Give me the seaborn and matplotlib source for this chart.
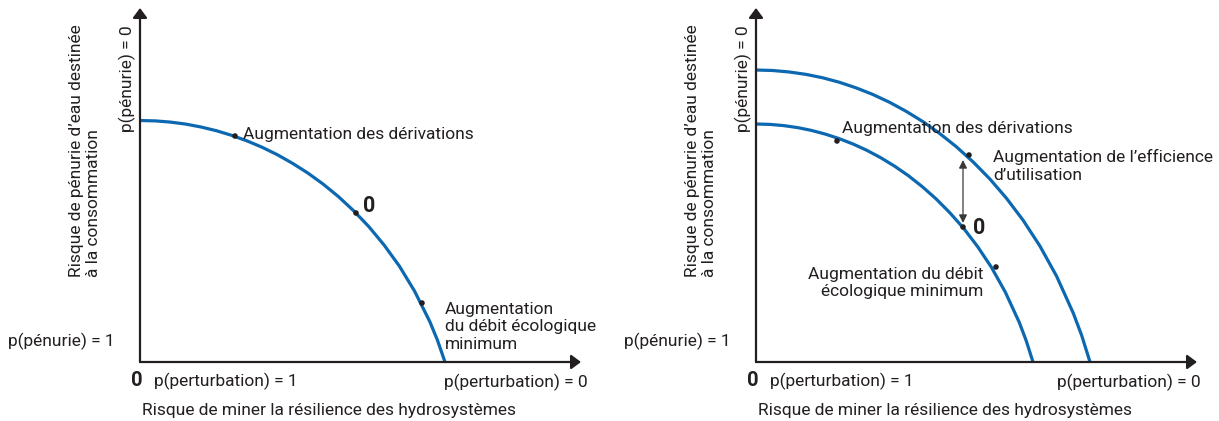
import matplotlib
matplotlib.use("Agg")
import matplotlib.pyplot as plt
import seaborn as sns
from matplotlib import font_manager

# values, in pixel offsets from each panel's origin
left_curve_x = [0, 15.3, 30.5, 45.8, 61, 76.3, 91.5, 106.8, 122, 137.3, 152.5,
                167.8, 183, 198.3, 213.5, 228.8, 244, 259.3, 274.5, 289.8, 297.4, 305]
left_curve_y = [241.5, 241.1, 239.9, 237.9, 235.0, 231.3, 226.7, 221.2, 214.8, 207.3, 198.7,
                189.0, 178.0, 165.5, 151.4, 135.4, 117.1, 96.0, 71.0, 40.4, 21.9, 0]
left_dots_x = [95, 216, 282]
left_dots_y = [226, 149, 59]

inner_curve_x = [0, 13.9, 27.7, 41.6, 55.4, 69.3, 83.1, 97, 110.8, 124.7, 138.5,
                 152.4, 166.2, 180.1, 193.9, 207.8, 221.6, 235.5, 249.3, 263.2, 270.1, 277]
inner_curve_y = [238, 237.6, 236.4, 234.4, 231.6, 227.9, 223.4, 218.0, 211.7, 204.3, 195.9,
                 186.3, 175.4, 163.1, 149.2, 133.5, 115.4, 94.6, 69.9, 39.8, 21.6, 0]
outer_curve_x = [0, 16.7, 33.4, 50.1, 66.8, 83.5, 100.2, 116.9, 133.6, 150.3, 167,
                 183.7, 200.4, 217.1, 233.8, 250.5, 267.2, 283.9, 300.6, 317.3, 325.7, 334]
outer_curve_y = [292, 291.5, 290.0, 287.6, 284.2, 279.7, 274.1, 267.5, 259.7, 250.6, 240.3,
                 228.5, 215.2, 200.1, 183.1, 163.7, 141.6, 116.0, 85.8, 48.8, 26.5, 0]
right_dots_x = [81, 213, 207, 240]
right_dots_y = [221, 207, 135, 95]

y_title = "Risque de pénurie d’eau destinée\nà la consommation"
x_title = "Risque de miner la résilience des hydrosystèmes"

BLUE = "#0b68b1"
INK = "#231f20"

sns.set_theme(style="white")
names = {f.name for f in font_manager.fontManager.ttflist}
FONT = next(n for n in ["Liberation Sans Narrow", "Roboto", "DejaVu Sans"] if n in names)
SIZE = 12.5
plt.rcParams["font.family"] = [FONT, "DejaVu Sans"]

W, H = 1219, 421
fig = plt.figure(figsize=(W / 100, H / 100), dpi=100)
fig.patch.set_facecolor("white")


def make_axes(x0, xlen):
    ax = fig.add_axes([x0 / W, 59 / H, xlen / W, 354 / H])
    ax.set_xlim(0, xlen)
    ax.set_ylim(0, 354)
    ax.set_axis_off()
    head = "-|>,head_length=0.58,head_width=0.43"
    for end in [(xlen, 0), (0, 354)]:
        ax.annotate("", xy=end, xytext=(0, 0),
                    arrowprops=dict(arrowstyle=head, color=INK, lw=1.6,
                                    mutation_scale=10, shrinkA=0, shrinkB=0),
                    annotation_clip=False)
    return ax


def frame_text(ax):
    kw = dict(color=INK, fontsize=SIZE)
    ax.text(-55, 85, y_title, rotation=90, ha="center", va="bottom",
            multialignment="left", **kw)
    ax.text(-13, 230, "p(pénurie) = 0", rotation=90, ha="center", va="bottom", **kw)
    ax.text(-25, 21, "p(pénurie) = 1", ha="right", va="center", **kw)
    ax.text(-3, -19, "0", ha="center", va="center", fontweight="bold",
            color=INK, fontsize=SIZE + 2)
    ax.text(14, -19, "p(perturbation) = 1", ha="left", va="center", **kw)
    ax.text(2, -48, x_title, ha="left", va="center", **kw)


def curve(ax, xs, ys):
    sns.lineplot(x=xs, y=ys, ax=ax, color=BLUE, linewidth=2.3,
                 estimator=None, sort=False, legend=False)


def dots(ax, xs, ys):
    sns.scatterplot(x=xs, y=ys, ax=ax, color=INK, s=16, edgecolor="none",
                    zorder=5, legend=False)


# left panel
axl = make_axes(140, 441)
curve(axl, left_curve_x, left_curve_y)
dots(axl, left_dots_x, left_dots_y)
frame_text(axl)
axl.text(304, -20, "p(perturbation) = 0", ha="left", va="center", color=INK, fontsize=SIZE)
axl.text(103, 227, "Augmentation des dérivations", ha="left", va="center",
         color=INK, fontsize=SIZE)
axl.text(223, 156, "0", ha="left", va="center", fontweight="bold",
         color=INK, fontsize=SIZE + 3)
axl.text(305, 35, "Augmentation\ndu débit écologique\nminimum", ha="left",
         va="center", color=INK, fontsize=SIZE)

# right panel
axr = make_axes(756, 441)
curve(axr, inner_curve_x, inner_curve_y)
curve(axr, outer_curve_x, outer_curve_y)
dots(axr, right_dots_x, right_dots_y)
frame_text(axr)
axr.text(301, -20, "p(perturbation) = 0", ha="left", va="center", color=INK, fontsize=SIZE)
axr.text(86, 234, "Augmentation des dérivations", ha="left", va="center",
         color=INK, fontsize=SIZE)
axr.text(237, 196, "Augmentation de l’efficience\nd’utilisation", ha="left",
         va="center", color=INK, fontsize=SIZE)
axr.text(227, 79, "Augmentation du débit\nécologique minimum", ha="right",
         va="center", multialignment="right", color=INK, fontsize=SIZE)
axr.text(217, 134, "0", ha="left", va="center", fontweight="bold",
         color=INK, fontsize=SIZE + 3)
axr.annotate("", xy=(207, 139), xytext=(207, 202),
             arrowprops=dict(arrowstyle="<|-|>,head_length=0.6,head_width=0.3",
                             color="#3a3a3a", lw=0.9, mutation_scale=8,
                             shrinkA=0, shrinkB=0))

fig.savefig("out.png", dpi=100, facecolor="white")
